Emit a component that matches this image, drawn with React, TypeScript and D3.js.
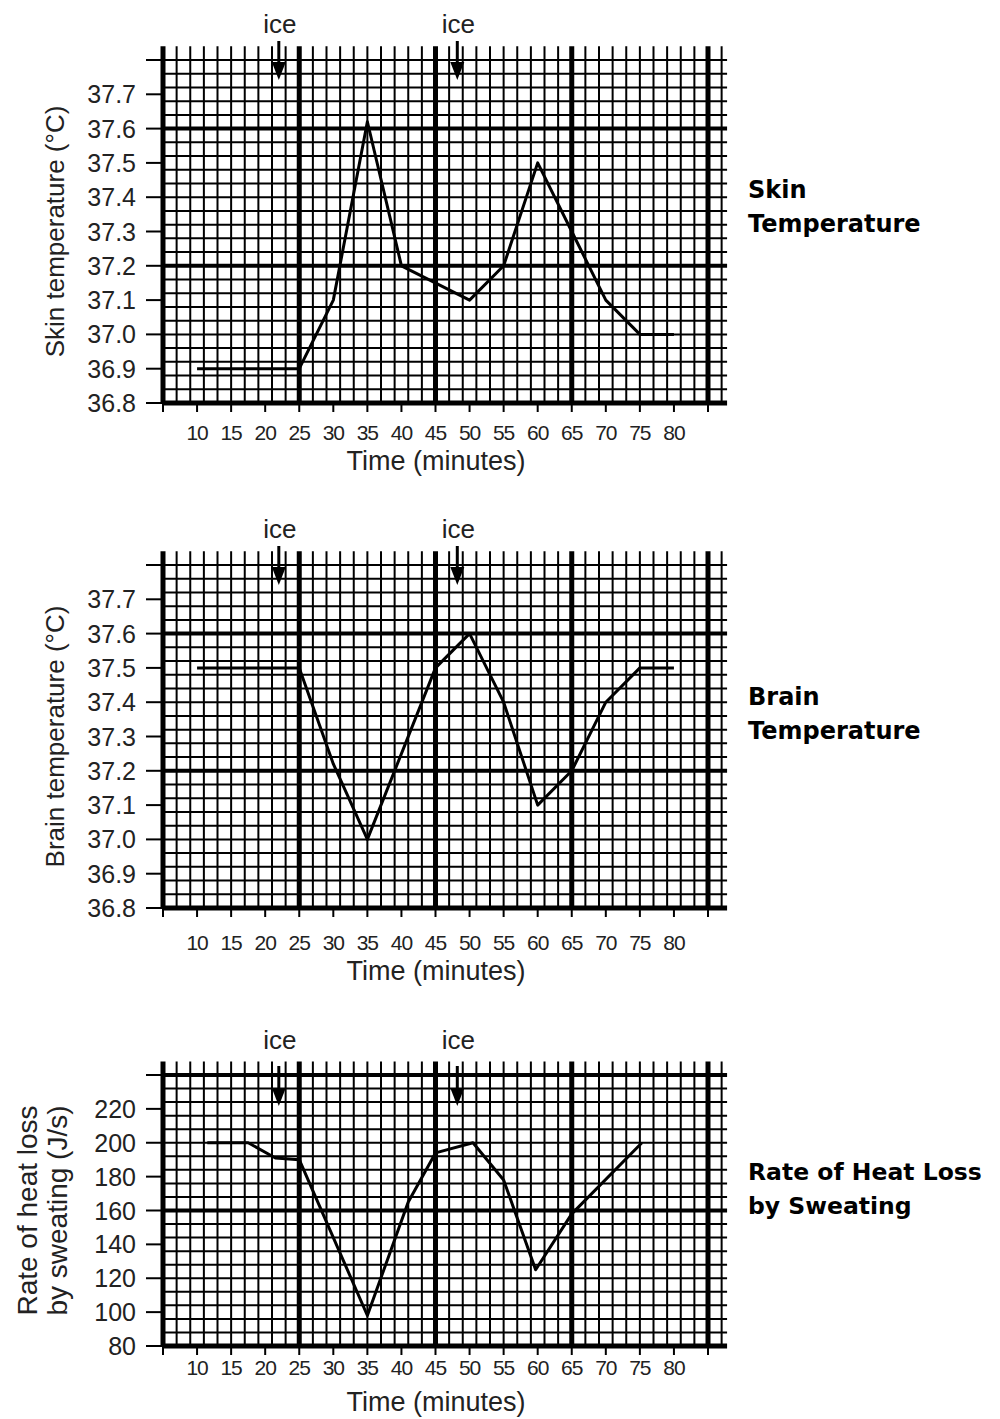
import React from "react";
import * as d3 from "d3";

// ---- data ----
const skinTime = [10, 25, 30, 35, 40, 50, 55, 60, 65, 70, 75, 80];
const skinTemp = [36.9, 36.9, 37.1, 37.62, 37.2, 37.1, 37.2, 37.5, 37.3, 37.1, 37.0, 37.0];

const brainTime = [10, 25, 30, 35, 45, 50, 55, 60, 65, 70, 75, 80];
const brainTemp = [37.5, 37.5, 37.22, 37.0, 37.5, 37.6, 37.4, 37.1, 37.2, 37.4, 37.5, 37.5];

const sweatTime = [11.5, 17.5, 21.5, 25, 35, 41, 45, 50.5, 55, 59.7, 65, 75.3];
const sweatRate = [200, 200, 191, 190, 98, 165, 194, 200, 178, 125, 158, 200];

const timeTicks = [5, 10, 15, 20, 25, 30, 35, 40, 45, 50, 55, 60, 65, 70, 75, 80, 85];
const timeTickLabels = ["", "10", "15", "20", "25", "30", "35", "40", "45", "50", "55", "60", "65", "70", "75", "80", ""];

const tempTicks = [36.8, 36.9, 37.0, 37.1, 37.2, 37.3, 37.4, 37.5, 37.6, 37.7, 37.8];
const tempTickLabels = ["36.8", "36.9", "37.0", "37.1", "37.2", "37.3", "37.4", "37.5", "37.6", "37.7", ""];

const rateTicks = [80, 100, 120, 140, 160, 180, 200, 220, 240];
const rateTickLabels = ["80", "100", "120", "140", "160", "180", "200", "220", ""];

const iceTimes = [22, 48.2];

const FONT = "'Liberation Sans', Arial, sans-serif";
const BOLD = "'DejaVu Sans', sans-serif";

const x = d3.scaleLinear().domain([5, 85]).range([163, 708]);

function PanelView({ p }: { p: any }) {
  const y = d3.scaleLinear().domain(p.yDomain).range([p.yBottom, p.yTop]);
  const cellH = (p.yBottom - p.yTop) / p.cells;
  const vCount = 42;
  const verts = d3.range(vCount).map((i) => ({ m: 5 + 2 * i, thick: i % 10 === 0 }));
  const hors = d3.range(p.cells + 1).map((j) => ({ yy: p.yBottom - j * cellH, j }));
  const thickH = (j: number) => j % 10 === 0;
  const line = d3
    .line<number>()
    .x((_, i) => x(p.time[i]))
    .y((d) => y(d));
  const xRight = x(87.8);
  const yCenter = (p.yBottom + p.yTop) / 2;
  return (
    <g>
      {hors.map((h) => (
        <line
          key={"h" + h.j}
          x1={x(5)}
          x2={xRight}
          y1={h.yy}
          y2={h.yy}
          stroke="#000"
          strokeWidth={thickH(h.j) ? (h.j === 0 ? 5 : 4) : 2}
        />
      ))}
      {verts.map((v) => (
        <line
          key={"v" + v.m}
          x1={x(v.m)}
          x2={x(v.m)}
          y1={p.yTop - cellH}
          y2={p.yBottom}
          stroke="#000"
          strokeWidth={v.thick ? 5 : 2}
        />
      ))}
      {p.ticks.map((t: number, i: number) => (
        <g key={"yt" + i}>
          <line x1={146} x2={163} y1={y(t)} y2={y(t)} stroke="#000" strokeWidth={2} />
          <text
            x={136}
            y={y(t)}
            textAnchor="end"
            dominantBaseline="central"
            fontFamily={FONT}
            fontSize={25}
            fill="#222"
          >
            {p.tickLabels[i]}
          </text>
        </g>
      ))}
      {timeTicks.map((t, i) => (
        <g key={"xt" + i}>
          <line x1={x(t)} x2={x(t)} y1={p.yBottom} y2={p.yBottom + 9} stroke="#000" strokeWidth={2} />
          <text
            x={x(t)}
            y={p.tickLabelY}
            textAnchor="middle"
            dominantBaseline="central"
            fontFamily={FONT}
            fontSize={21}
            letterSpacing={-1}
            fill="#222"
          >
            {timeTickLabels[i]}
          </text>
        </g>
      ))}
      <text
        x={436}
        y={p.titleY}
        textAnchor="middle"
        dominantBaseline="central"
        fontFamily={FONT}
        fontSize={27}
        fill="#222"
      >
        Time (minutes)
      </text>
      {p.yLabel.map((l: string, i: number) => (
        <text
          key={"yl" + i}
          transform={`translate(${p.yLabelX[i]},${yCenter}) rotate(-90)`}
          textAnchor="middle"
          fontFamily={FONT}
          fontSize={p.yLabelSize}
          fill="#222"
        >
          {l}
        </text>
      ))}
      <path d={line(p.vals) || ""} fill="none" stroke="#000" strokeWidth={3} strokeLinejoin="round" />
      {iceTimes.map((t, i) => {
        const cx = x(t);
        const headTop = p.arrowTip - 18;
        return (
          <g key={"ice" + i}>
            <text x={cx + 1} y={p.iceY} textAnchor="middle" fontFamily={FONT} fontSize={26} fill="#222">
              ice
            </text>
            <line x1={cx} x2={cx} y1={p.arrowTop} y2={headTop + 2} stroke="#000" strokeWidth={3} />
            <path d={`M${cx - 7},${headTop} L${cx + 7},${headTop} L${cx},${p.arrowTip} Z`} fill="#000" />
          </g>
        );
      })}
      {p.side.map((s: string, i: number) => (
        <text
          key={"s" + i}
          x={748}
          y={p.sideBase + i * p.sideGap}
          fontFamily={BOLD}
          fontWeight="bold"
          fontSize={p.sideSize}
          fill="#000"
        >
          {s}
        </text>
      ))}
    </g>
  );
}

export default function App() {
  const panels: any[] = [
    {
      time: skinTime,
      vals: skinTemp,
      yDomain: [36.8, 37.8],
      yBottom: 403,
      yTop: 60,
      cells: 25,
      ticks: tempTicks,
      tickLabels: tempTickLabels,
      yLabel: ["Skin temperature (°C)"],
      yLabelX: [64],
      yLabelSize: 26,
      side: ["Skin", "Temperature"],
      sideSize: 24,
      sideBase: 198,
      sideGap: 34,
      iceY: 33,
      arrowTop: 41,
      arrowTip: 80,
      tickLabelY: 432,
      titleY: 461,
    },
    {
      time: brainTime,
      vals: brainTemp,
      yDomain: [36.8, 37.8],
      yBottom: 908,
      yTop: 565,
      cells: 25,
      ticks: tempTicks,
      tickLabels: tempTickLabels,
      yLabel: ["Brain  temperature (°C)"],
      yLabelX: [64],
      yLabelSize: 26,
      side: ["Brain", "Temperature"],
      sideSize: 24,
      sideBase: 705,
      sideGap: 34,
      iceY: 538,
      arrowTop: 546,
      arrowTip: 585,
      tickLabelY: 942,
      titleY: 971,
    },
    {
      time: sweatTime,
      vals: sweatRate,
      yDomain: [80, 240],
      yBottom: 1346,
      yTop: 1075,
      cells: 20,
      ticks: rateTicks,
      tickLabels: rateTickLabels,
      yLabel: ["Rate of heat loss", "by sweating (J/s)"],
      yLabelX: [37, 67],
      yLabelSize: 28,
      side: ["Rate of Heat Loss", "by Sweating"],
      sideSize: 23.5,
      sideBase: 1180,
      sideGap: 34,
      iceY: 1049,
      arrowTop: 1066,
      arrowTip: 1106,
      tickLabelY: 1367,
      titleY: 1402,
    },
  ];
  return (
    <svg
      width={1000}
      height={1419}
      style={{ position: "absolute", left: 0, top: 0, background: "#fff" }}
    >
      <rect width={1000} height={1419} fill="#fff" />
      {panels.map((p, i) => (
        <PanelView key={i} p={p} />
      ))}
    </svg>
  );
}
